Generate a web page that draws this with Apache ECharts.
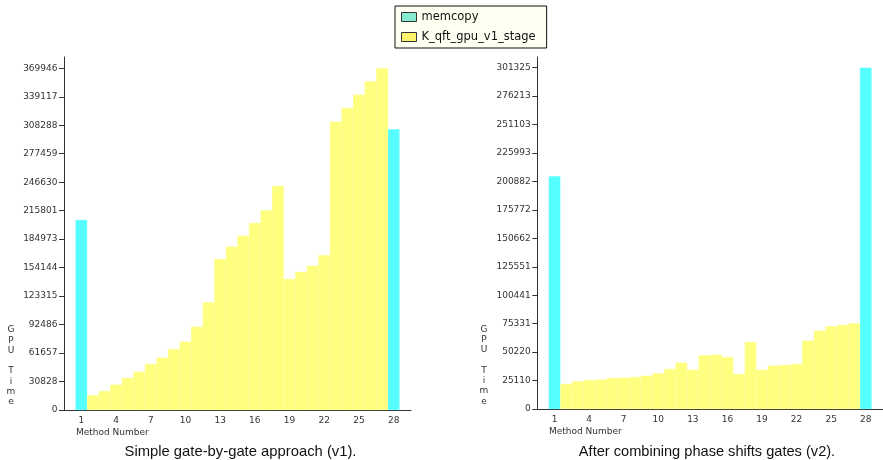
<!DOCTYPE html>
<html>
<head>
<meta charset="utf-8">
<script src="https://cdn.jsdelivr.net/npm/echarts@6/dist/echarts.min.js"></script>
<style>html,body{margin:0;padding:0;background:#fff;}#c{width:883px;height:460px;}</style>
</head>
<body>
<div id="c"></div>
<script>
// ---- data ----
const categories = ['1','2','3','4','5','6','7','8','9','10','11','12','13','14','15','16','17','18','19','20','21','22','23','24','25','26','27','28'];
const shownLabels = ['1','4','7','10','13','16','19','22','25','28'];

// v1: simple gate-by-gate approach
const v1Memcopy = {'1': 205700, '28': 303900};
const v1Kernel = [15900, 20570, 27400, 34650, 41500, 49800, 56650, 66000, 73950, 90200, 116600, 163500, 176800, 188700, 202500, 216200, 242500, 141800, 149400, 156200, 167500, 312200, 327000, 341400, 355800, 369946]; // categories 2..27
const v1TickLabels = ['0','30828','61657','92486','123315','154144','184973','215801','246630','277459','308288','339117','369946'];
const v1TopTick = 369946;

// v2: after combining phase shift gates
const v2Memcopy = {'1': 205450, '28': 301325};
const v2Kernel = [22070, 24430, 25600, 25900, 27370, 27660, 28250, 29430, 31490, 35300, 40900, 34700, 47400, 47950, 45900, 30900, 59150, 34700, 38250, 38850, 39730, 60300, 69150, 73000, 74160, 75650]; // categories 2..27
const v2TickLabels = ['0','25110','50220','75331','100441','125551','150662','175772','200882','225993','251103','276213','301325'];
const v2TopTick = 301325;

const seriesNames = ['memcopy', 'K_qft_gpu_v1_stage'];
const captions = ['Simple gate-by-gate approach (v1).', 'After combining phase shifts gates (v2).'];
const yName = 'GPU Time';
const xName = 'Method Number';

// ---- build ----
const axisCats = [''].concat(categories, ['']);
function memSeries(m) { return axisCats.map(c => (c in m ? m[c] : null)); }
function kernSeries(k) { return axisCats.map((c, i) => (i >= 2 && i <= 27 ? k[i - 2] : null)); }

const CYAN = '#55ffff', YEL = '#ffff7f';
const FONT = 'DejaVu Sans';

function xAxis(gi) {
  return {
    type: 'category', gridIndex: gi, data: axisCats,
    axisLine: {lineStyle: {color: '#333', width: 1}},
    axisTick: {length: 3, alignWithLabel: true, interval: (i, v) => shownLabels.includes(v), lineStyle: {color: '#333'}},
    axisLabel: {interval: (i, v) => shownLabels.includes(v), fontFamily: FONT, fontSize: 9, color: '#333', margin: 6},
    splitLine: {show: false}
  };
}
function yAxis(gi, top, labels, plotTopFrac) {
  const step = top / (labels.length - 1);
  const vals = labels.map((_, i) => i * step);
  return {
    type: 'value', gridIndex: gi, min: 0, max: top * plotTopFrac,
    axisLine: {show: true, lineStyle: {color: '#333', width: 1}},
    axisTick: {show: true, length: 5, customValues: vals, lineStyle: {color: '#333'}},
    axisLabel: {customValues: vals, fontFamily: FONT, fontSize: 9, color: '#333', margin: 6.5,
      formatter: v => labels[Math.round(v / step)]},
    splitLine: {show: false}
  };
}
function bar(name, xi, stack, data, color) {
  return {name, type: 'bar', xAxisIndex: xi, yAxisIndex: xi, stack, data, barCategoryGap: '0%',
    itemStyle: {color, borderColor: color, borderWidth: 0.7}};
}

const option = {
  animation: false,
  backgroundColor: '#fff',
  legend: {
    left: 395, top: 6, orient: 'vertical',
    padding: [5, 11, 5, 6], itemGap: 8, itemWidth: 15, itemHeight: 9, itemTextGap: 8,
    backgroundColor: '#fffff2', borderColor: '#111', borderWidth: 1, borderRadius: 0,
    selectedMode: false,
    textStyle: {fontFamily: FONT, fontSize: 11.5, color: '#111'},
    data: [
      {name: seriesNames[0], icon: 'rect', itemStyle: {color: '#86ecd0', borderColor: '#333', borderWidth: 1}},
      {name: seriesNames[1], icon: 'rect', itemStyle: {color: '#fff36a', borderColor: '#333', borderWidth: 1}}
    ]
  },
  grid: [
    {left: 64, top: 57, width: 347, height: 353, containLabel: false},
    {left: 537.3, top: 57, width: 348, height: 352, containLabel: false}
  ],
  xAxis: [xAxis(0), xAxis(1)],
  yAxis: [yAxis(0, v1TopTick, v1TickLabels, 353 / 341.7), yAxis(1, v2TopTick, v2TickLabels, 352 / 341.3)],
  series: [
    bar(seriesNames[0], 0, 'a', memSeries(v1Memcopy), CYAN),
    bar(seriesNames[1], 0, 'a', kernSeries(v1Kernel), YEL),
    bar(seriesNames[0], 1, 'b', memSeries(v2Memcopy), CYAN),
    bar(seriesNames[1], 1, 'b', kernSeries(v2Kernel), YEL)
  ],
  graphic: [
    {type: 'text', x: 11, y: 325, style: {text: yName.split('').join('\n'), textAlign: 'center', textVerticalAlign: 'top', fontFamily: FONT, fontSize: 9, lineHeight: 10.25, fill: '#333'}},
    {type: 'text', x: 484, y: 324.5, style: {text: yName.split('').join('\n'), textAlign: 'center', textVerticalAlign: 'top', fontFamily: FONT, fontSize: 9, lineHeight: 10.25, fill: '#333'}},
    {type: 'text', x: 76, y: 433, style: {text: xName, textAlign: 'left', textVerticalAlign: 'middle', fontFamily: FONT, fontSize: 9, fill: '#333'}},
    {type: 'text', x: 549, y: 432, style: {text: xName, textAlign: 'left', textVerticalAlign: 'middle', fontFamily: FONT, fontSize: 9, fill: '#333'}},
    {type: 'text', x: 240.5, y: 452, style: {text: captions[0], textAlign: 'center', textVerticalAlign: 'middle', fontFamily: 'Liberation Sans', fontSize: 14.8, fill: '#111'}},
    {type: 'text', x: 707, y: 452, style: {text: captions[1], textAlign: 'center', textVerticalAlign: 'middle', fontFamily: 'Liberation Sans', fontSize: 14.6, fill: '#111'}}
  ]
};
const chart = echarts.init(document.getElementById('c'), null, {renderer: 'canvas'});
chart.setOption(option);
</script>
</body>
</html>
